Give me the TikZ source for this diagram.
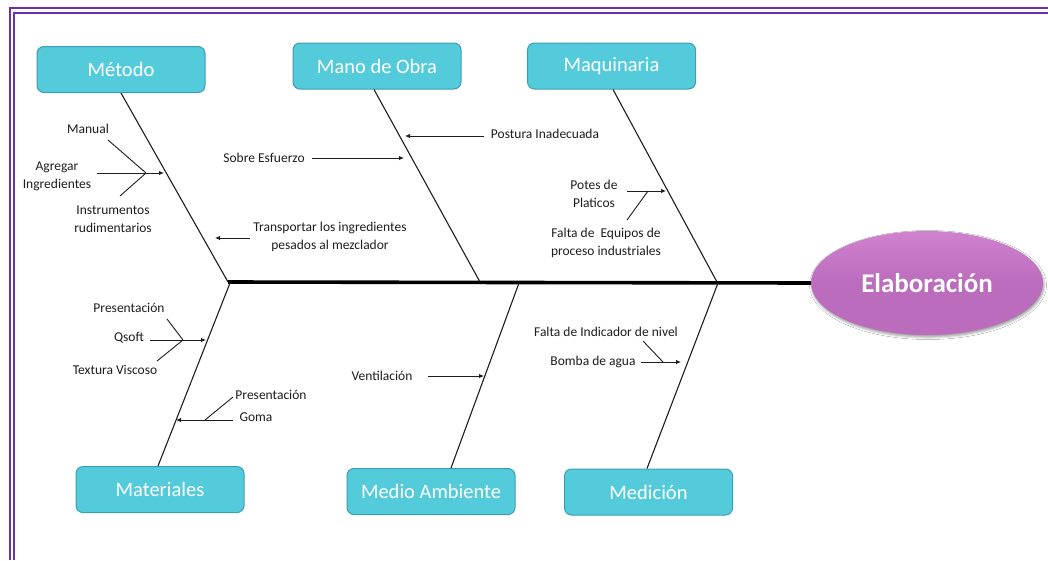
\documentclass[tikz,border=0pt]{standalone}
\usepackage{fontspec}
\setmainfont{Carlito}
\usetikzlibrary{arrows.meta,shapes.geometric,shadows.blur}
\definecolor{framecol}{HTML}{7030A8}
\definecolor{boxfill}{HTML}{54CBDB}
\definecolor{boxedge}{HTML}{3C9DB6}
\definecolor{headfill}{HTML}{BC6CBD}
\definecolor{headlight}{HTML}{CF82CF}
\definecolor{inkcol}{HTML}{1E1E1E}
\begin{document}
\begin{tikzpicture}[x=1pt,y=-1pt,
  category/.style={draw=boxedge, line width=1pt, fill=boxfill, rounded corners=7pt,
    minimum width=168pt, minimum height=46pt, inner sep=0pt, text=white,
    font=\fontsize{20.5}{22}\selectfont},
  bone/.style={draw=inkcol, line width=1.1pt},
  causeline/.style={draw=inkcol, line width=0.9pt},
  causearrow/.style={causeline, -{Latex[length=5pt,width=4.5pt]}},
  lbl/.style={font=\fontsize{13.5}{18}\selectfont, align=center, inner sep=0pt, text=inkcol},
]
\useasboundingbox (0,0) rectangle (1048,560);
\fill[white] (0,0) rectangle (1048,560);

% double frame along the top and left edges
\draw[framecol, line width=2.2pt] (10,560) -- (10,8) -- (1048,8);
\draw[framecol, line width=2.2pt] (14,560) -- (14,13) -- (1048,13);

% head of the fish
\node[ellipse, minimum width=232pt, minimum height=104pt, inner sep=0pt,
  top color=headlight, bottom color=headfill, middle color=headfill,
  blur shadow={shadow xshift=1pt, shadow yshift=-2pt, shadow opacity=40, shadow blur radius=2.5pt},
  text=white, font=\fontsize{27}{30}\selectfont\bfseries] (head) at (927,283) {Elaboración};

% spine
\coordinate (spineL) at (228,282);
\draw[line width=3.6pt, black] (spineL) -- (head.west);

% category boxes
\node[category] (metodo)     at (121,69.5)  {Método};
\node[category] (mano)       at (377,66)    {Mano de Obra};
\node[category] (maquinaria) at (611.5,66)  {Maquinaria};
\node[category] (materiales) at (160,489.5) {Materiales};
\node[category] (medio)      at (431,491.5) {Medio Ambiente};
\node[category] (medicion)   at (648.5,492) {Medición};

% junctions on the spine
\coordinate (jmet)  at (228,282);
\coordinate (jmat)  at (230,283);
\coordinate (jmano) at (480,282);
\coordinate (jmed)  at (519,283);
\coordinate (jmaq)  at (717,282);
\coordinate (jmdc)  at (718,283);

% bones
\draw[bone] (metodo.south) -- (jmet);
\draw[bone] ([xshift=-3pt]mano.south) -- (jmano);
\draw[bone] ([xshift=1.5pt]maquinaria.south) -- (jmaq);
\draw[bone] ([xshift=-2pt]materiales.north) -- (jmat);
\draw[bone] ([xshift=20pt]medio.north) -- (jmed);
\draw[bone] ([xshift=-1.5pt]medicion.north) -- (jmdc);

% --- Método causes
\node[lbl] (manual)  at (88,129)  {Manual};
\node[lbl] (agregar) at (57,176)  {Agregar\\Ingredientes};
\node[lbl] (instr)   at (113,219) {Instrumentos\\rudimentarios};
\node[lbl] (transp)  at (330,237) {Transportar los ingredientes\\pesados al mezclador};
\coordinate (manualA) at (108,140);
\coordinate (metJ)    at (146,173);
\coordinate (agrA)    at (97,173);
\coordinate (metT)    at (164,173);
\coordinate (instrA)  at (120,196);
\coordinate (transA)  at (250,238);
\coordinate (transT)  at (215,238);
\draw[causeline] (manualA) -- (metJ);
\draw[causeline] (instrA) -- (metJ);
\draw[causearrow] (agrA) -- (metT);
\draw[causearrow] (transA) -- (transT);

% --- Mano de Obra causes
\node[lbl] (sobre)   at (264,158) {Sobre Esfuerzo};
\node[lbl] (postura) at (545,134) {Postura Inadecuada};
\coordinate (sobreA) at (312,158);
\coordinate (sobreT) at (404,158);
\coordinate (postA)  at (484,136);
\coordinate (postT)  at (405,136);
\draw[causearrow] (sobreA) -- (sobreT);
\draw[causearrow] (postA) -- (postT);

% --- Maquinaria causes
\node[lbl] (potes) at (594,194) {Potes de\\Platicos};
\node[lbl] (falta) at (606,243) {Falta de\ \ Equipos de\\proceso industriales};
\coordinate (potesA) at (627,191);
\coordinate (potesT) at (666,191);
\coordinate (faltaA) at (627,220);
\coordinate (maqJ)   at (648,191);
\draw[causearrow] (potesA) -- (potesT);
\draw[causeline] (faltaA) -- (maqJ);

% --- Materiales causes
\node[lbl] (pres1)   at (129,308) {Presentación};
\node[lbl] (qsoft)   at (129,338) {Qsoft};
\node[lbl] (textura) at (115,370) {Textura Viscoso};
\node[lbl] (pres2)   at (271,395) {Presentación};
\node[lbl] (goma)    at (256,417) {Goma};
\coordinate (pres1A) at (167,319);
\coordinate (matJ)   at (183,340);
\coordinate (qsoftA) at (150,340);
\coordinate (qsoftT) at (206,340);
\coordinate (textA)  at (157,361);
\coordinate (pres2A) at (233,397);
\coordinate (gomaJ)  at (205,420);
\coordinate (gomaA)  at (233,420);
\coordinate (gomaT)  at (176,420);
\draw[causeline] (pres1A) -- (matJ);
\draw[causeline] (textA) -- (matJ);
\draw[causearrow] (qsoftA) -- (qsoftT);
\draw[causeline] (pres2A) -- (gomaJ);
\draw[causearrow] (gomaA) -- (gomaT);

% --- Medio Ambiente causes
\node[lbl] (vent) at (382,376) {Ventilación};
\coordinate (ventA) at (428,376);
\coordinate (ventT) at (484,376);
\draw[causearrow] (ventA) -- (ventT);

% --- Medición causes
\node[lbl] (indic) at (606,332) {Falta de Indicador de nivel};
\node[lbl] (bomba) at (593,362) {Bomba de agua};
\coordinate (indicA) at (643,341);
\coordinate (mdcJ)   at (663,362);
\coordinate (bombaA) at (641,362);
\coordinate (bombaT) at (681,362);
\draw[causeline] (indicA) -- (mdcJ);
\draw[causearrow] (bombaA) -- (bombaT);
\end{tikzpicture}
\end{document}
